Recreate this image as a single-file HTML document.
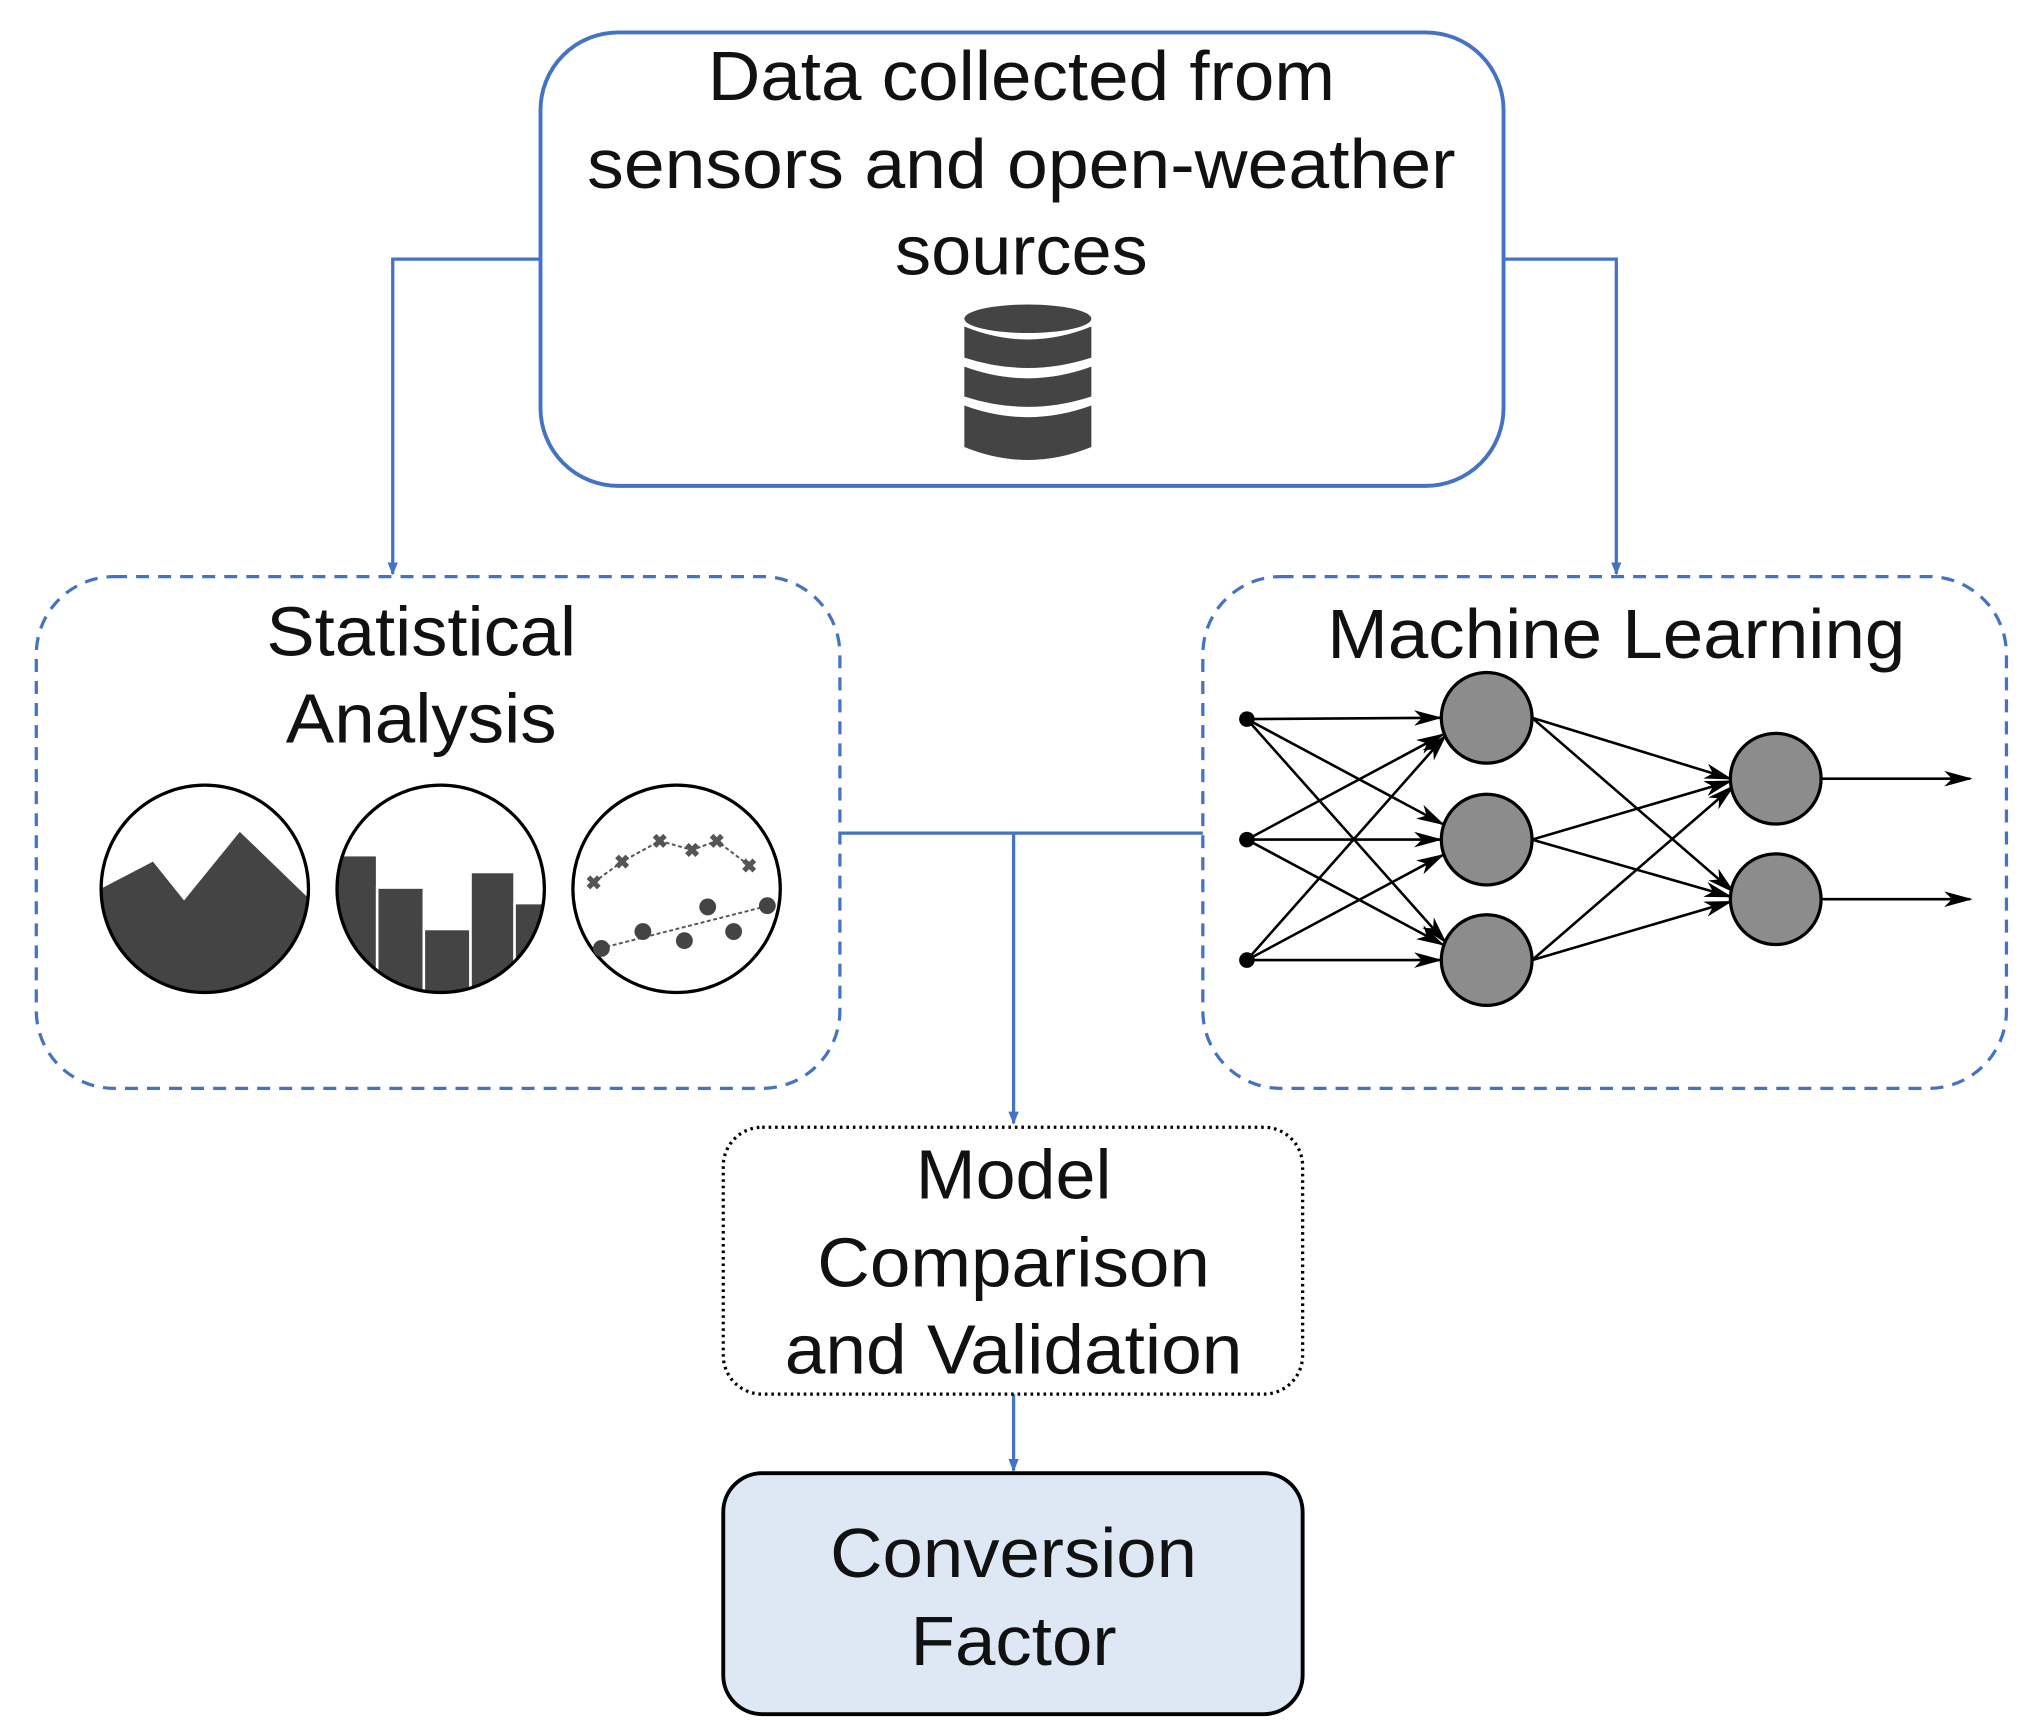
<!DOCTYPE html>
<html><head><meta charset="utf-8"><style>
html,body{margin:0;padding:0;background:#fff;}
svg{display:block;}
text{font-family:"Liberation Sans",Arial,sans-serif;fill:#111;text-anchor:middle;}
</style></head><body>
<svg width="2022" height="1731" viewBox="0 0 1560 1336" preserveAspectRatio="none" xmlns="http://www.w3.org/2000/svg">
<defs>
<marker id="ab" markerWidth="10" markerHeight="10" refX="9" refY="5" orient="auto" markerUnits="userSpaceOnUse"><path d="M0,1 L10,5 L0,9 z" fill="#4472c4"/></marker>
<marker id="ak" markerWidth="22" markerHeight="12" refX="20" refY="6" orient="auto" markerUnits="userSpaceOnUse"><path d="M0,0 L22,6 L0,12 L6,6 z" fill="#000"/></marker>
<clipPath id="c1"><circle cx="158" cy="686" r="79"/></clipPath>
<clipPath id="c2"><circle cx="340" cy="686" r="79"/></clipPath>
</defs>
<!-- top box -->
<rect x="417" y="25" width="743" height="350" rx="60" fill="#fff" stroke="#4472c4" stroke-width="3"/>
<text x="788" y="77" font-size="54" textLength="484" lengthAdjust="spacingAndGlyphs">Data collected from</text>
<text x="788" y="145" font-size="54" textLength="670" lengthAdjust="spacingAndGlyphs">sensors and open-weather</text>
<text x="788" y="212" font-size="54" textLength="195" lengthAdjust="spacingAndGlyphs">sources</text>
<g fill="#444">
<ellipse cx="793" cy="246" rx="49" ry="11"/>
<path d="M744,252 Q793,272 842,252 L842,276 Q793,292 744,276z"/>
<path d="M744,283 Q793,301 842,283 L842,306 Q793,322 744,306z"/>
<path d="M744,313 Q793,331 842,313 L842,345 Q793,365 744,345z"/>
</g>
<!-- connectors -->
<g fill="none" stroke="#4472c4" stroke-width="2.5">
<path d="M417,200 H303 V443" marker-end="url(#ab)"/>
<path d="M1160,200 H1247 V443" marker-end="url(#ab)"/>
<path d="M648,643 H928 M782,643 V867" marker-end="url(#ab)"/>
<path d="M782,1076 V1135" marker-end="url(#ab)"/>
</g>
<!-- stat box -->
<rect x="28" y="445" width="620" height="395" rx="60" fill="none" stroke="#4472c4" stroke-width="2.5" stroke-dasharray="10,7"/>
<text x="325" y="506" font-size="54" textLength="239" lengthAdjust="spacingAndGlyphs">Statistical</text>
<text x="325" y="573" font-size="54" textLength="209" lengthAdjust="spacingAndGlyphs">Analysis</text>
<g clip-path="url(#c1)"><path d="M70,690 L118,665 L142,695 L185,642 L245,700 L245,780 L70,780z" fill="#444"/></g>
<circle cx="158" cy="686" r="80" fill="none" stroke="#000" stroke-width="2.5"/>
<g clip-path="url(#c2)" fill="#444" stroke="#fff" stroke-width="2">
<rect x="255" y="660" width="36" height="120"/><rect x="291" y="685" width="36" height="100"/><rect x="327" y="717" width="36" height="70"/><rect x="363" y="673" width="34" height="110"/><rect x="397" y="697" width="30" height="90"/>
</g>
<circle cx="340" cy="686" r="80" fill="none" stroke="#000" stroke-width="2.5"/>
<circle cx="522" cy="686" r="80" fill="none" stroke="#000" stroke-width="2.5"/>
<g stroke="#555" stroke-width="1.5" stroke-dasharray="3,2" fill="none">
<polyline points="458,681 480,665 509,649 534,656 553,649 578,668"/>
<line x1="463" y1="732" x2="593" y2="699"/>
</g>
<g stroke="#555" stroke-width="4">
<path d="M454,677 l8,8 m0,-8 l-8,8"/><path d="M476,661 l8,8 m0,-8 l-8,8"/><path d="M505,645 l8,8 m0,-8 l-8,8"/><path d="M530,652 l8,8 m0,-8 l-8,8"/><path d="M549,645 l8,8 m0,-8 l-8,8"/><path d="M574,664 l8,8 m0,-8 l-8,8"/>
</g>
<g fill="#444"><circle cx="464" cy="732" r="6.5"/><circle cx="496" cy="719" r="6.5"/><circle cx="528" cy="726" r="6.5"/><circle cx="546" cy="700" r="6.5"/><circle cx="566" cy="719" r="6.5"/><circle cx="592" cy="699" r="6.5"/></g>
<!-- ML box -->
<rect x="928" y="445" width="620" height="395" rx="60" fill="none" stroke="#4472c4" stroke-width="2.5" stroke-dasharray="10,7"/>
<text x="1247" y="508" font-size="54" textLength="446" lengthAdjust="spacingAndGlyphs">Machine Learning</text>
<g stroke="#000" stroke-width="2" marker-end="url(#ak)">
<line x1="962" y1="555" x2="1111" y2="554"/><line x1="962" y1="555" x2="1113" y2="636"/><line x1="962" y1="555" x2="1115" y2="727"/>
<line x1="962" y1="648" x2="1113" y2="567"/><line x1="962" y1="648" x2="1111" y2="648"/><line x1="962" y1="648" x2="1113" y2="729"/>
<line x1="962" y1="741" x2="1115" y2="568"/><line x1="962" y1="741" x2="1113" y2="660"/><line x1="962" y1="741" x2="1111" y2="741"/>
<line x1="1182" y1="554" x2="1335" y2="601"/><line x1="1182" y1="554" x2="1337" y2="688"/>
<line x1="1182" y1="648" x2="1335" y2="603"/><line x1="1182" y1="648" x2="1335" y2="692"/>
<line x1="1182" y1="741" x2="1337" y2="607"/><line x1="1182" y1="741" x2="1335" y2="696"/>
<line x1="1405" y1="601" x2="1520" y2="601"/><line x1="1405" y1="694" x2="1520" y2="694"/>
</g>
<g fill="#000"><circle cx="962" cy="555" r="6"/><circle cx="962" cy="648" r="6"/><circle cx="962" cy="741" r="6"/></g>
<g fill="#8c8c8c" stroke="#000" stroke-width="2.5">
<circle cx="1147" cy="554" r="35"/><circle cx="1147" cy="648" r="35"/><circle cx="1147" cy="741" r="35"/>
<circle cx="1370" cy="601" r="35"/><circle cx="1370" cy="694" r="35"/>
</g>
<!-- model box -->
<rect x="558" y="870" width="447" height="206" rx="30" fill="#fff" stroke="#000" stroke-width="2.5" stroke-dasharray="2,3"/>
<text x="782" y="925" font-size="54" textLength="151" lengthAdjust="spacingAndGlyphs">Model</text>
<text x="782" y="993" font-size="54" textLength="303" lengthAdjust="spacingAndGlyphs">Comparison</text>
<text x="782" y="1060" font-size="54" textLength="353" lengthAdjust="spacingAndGlyphs">and Validation</text>
<!-- conversion -->
<rect x="558" y="1137" width="447" height="186" rx="30" fill="#dde8f4" stroke="#000" stroke-width="3"/>
<text x="782" y="1217" font-size="54" textLength="283" lengthAdjust="spacingAndGlyphs">Conversion</text>
<text x="782" y="1285" font-size="54" textLength="159" lengthAdjust="spacingAndGlyphs">Factor</text>
</svg>
</body></html>
